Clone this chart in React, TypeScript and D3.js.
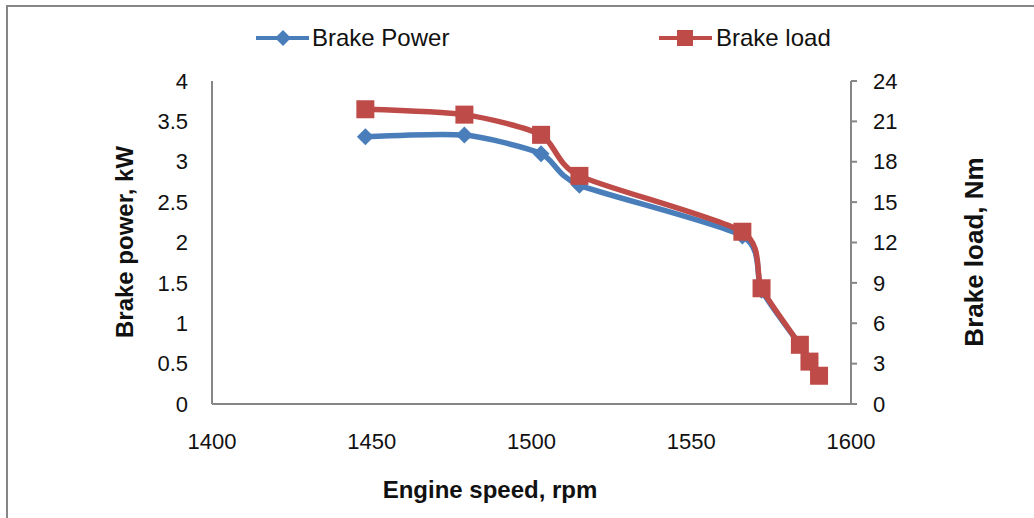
import React, { useRef, useEffect } from "react";
import * as d3 from "d3";

// engine speed (rpm) shared by both series
const speed = [1448, 1479, 1503, 1515, 1566, 1572, 1584, 1587, 1590];
// brake power, kW (left axis)
const brakePower = [3.31, 3.33, 3.1, 2.71, 2.08, 1.41, 0.73, 0.52, 0.35];
// brake load, Nm (right axis)
const brakeLoad = [21.9, 21.5, 20.0, 16.95, 12.8, 8.6, 4.4, 3.15, 2.1];

const xTicks = [1400, 1450, 1500, 1550, 1600];
const leftTicks = [0, 0.5, 1, 1.5, 2, 2.5, 3, 3.5, 4];
const rightTicks = [0, 3, 6, 9, 12, 15, 18, 21, 24];

const BLUE = "#4a7ebb";
const RED = "#be4b48";
const AXIS = "#868686";
const FONT = "'Liberation Sans', Arial, sans-serif";

const App = () => {
  const d3Container = useRef<SVGSVGElement | null>(null);

  useEffect(() => {
    if (!d3Container.current) return;
    const svg = d3.select(d3Container.current);
    svg.selectAll("*").remove();

    const plot = { left: 212, right: 851, top: 81, bottom: 404 };

    const x = d3.scaleLinear().domain([1400, 1600]).range([plot.left, plot.right]);
    const yL = d3.scaleLinear().domain([0, 4]).range([plot.bottom, plot.top]);
    const yR = d3.scaleLinear().domain([0, 24]).range([plot.bottom, plot.top]);

    // outer frame (top + left only visible)
    svg.append("line").attr("x1", 6).attr("x2", 1034).attr("y1", 6).attr("y2", 6)
      .attr("stroke", AXIS).attr("stroke-width", 2);
    svg.append("line").attr("x1", 7).attr("x2", 7).attr("y1", 6).attr("y2", 518)
      .attr("stroke", AXIS).attr("stroke-width", 2);

    // axes lines
    svg.append("line").attr("x1", plot.left).attr("x2", plot.left)
      .attr("y1", plot.top).attr("y2", plot.bottom).attr("stroke", AXIS).attr("stroke-width", 2);
    svg.append("line").attr("x1", plot.left).attr("x2", plot.right)
      .attr("y1", plot.bottom).attr("y2", plot.bottom).attr("stroke", AXIS).attr("stroke-width", 2);
    svg.append("line").attr("x1", plot.right).attr("x2", plot.right)
      .attr("y1", plot.top).attr("y2", plot.bottom).attr("stroke", AXIS).attr("stroke-width", 2);

    // right axis ticks
    svg.append("g").selectAll("line").data(rightTicks).enter().append("line")
      .attr("x1", plot.right).attr("x2", plot.right + 6)
      .attr("y1", (d) => yR(d)).attr("y2", (d) => yR(d))
      .attr("stroke", AXIS).attr("stroke-width", 2);

    const label = (g: any) =>
      g.attr("font-family", FONT).attr("font-size", 22).attr("fill", "#111");

    // left tick labels
    svg.append("g").selectAll("text").data(leftTicks).enter().append("text")
      .call(label)
      .attr("x", 188).attr("y", (d) => yL(d)).attr("dy", "0.35em")
      .attr("text-anchor", "end").text((d) => String(d));

    // right tick labels
    svg.append("g").selectAll("text").data(rightTicks).enter().append("text")
      .call(label)
      .attr("x", 873).attr("y", (d) => yR(d)).attr("dy", "0.35em")
      .attr("text-anchor", "start").text((d) => String(d));

    // x tick labels
    svg.append("g").selectAll("text").data(xTicks).enter().append("text")
      .call(label)
      .attr("x", (d) => x(d)).attr("y", 441).attr("dy", "0.35em")
      .attr("text-anchor", "middle").text((d) => String(d));

    // axis titles
    const title = (g: any) =>
      g.attr("font-family", FONT).attr("font-weight", "bold").attr("fill", "#111");
    svg.append("text").call(title).attr("font-size", 24)
      .attr("x", 490).attr("y", 490).attr("dy", "0.35em").attr("text-anchor", "middle")
      .text("Engine speed, rpm");
    svg.append("text").call(title).attr("font-size", 24)
      .attr("transform", "translate(125,242) rotate(-90)")
      .attr("dy", "0.35em").attr("text-anchor", "middle")
      .text("Brake power, kW");
    svg.append("text").call(title).attr("font-size", 26)
      .attr("transform", "translate(974,252) rotate(-90)")
      .attr("dy", "0.35em").attr("text-anchor", "middle")
      .text("Brake load, Nm");

    // Excel-like smoothing
    const curve = d3.curveCardinal.tension(0.3);
    const diamond = (cx: number, cy: number, r: number) =>
      `M${cx},${cy - r}L${cx + r},${cy}L${cx},${cy + r}L${cx - r},${cy}Z`;

    // brake power series
    const powerLine = d3.line<number>()
      .x((_, i) => x(speed[i]))
      .y((d) => yL(d))
      .curve(curve);
    svg.append("path").datum(brakePower).attr("d", powerLine)
      .attr("fill", "none").attr("stroke", BLUE).attr("stroke-width", 5.5)
      .attr("stroke-linejoin", "round");
    svg.append("g").selectAll("path").data(brakePower).enter().append("path")
      .attr("d", (d, i) => diamond(x(speed[i]), yL(d), 8.5))
      .attr("fill", BLUE);

    // brake load series
    const loadLine = d3.line<number>()
      .x((_, i) => x(speed[i]))
      .y((d) => yR(d))
      .curve(curve);
    svg.append("path").datum(brakeLoad).attr("d", loadLine)
      .attr("fill", "none").attr("stroke", RED).attr("stroke-width", 5.5)
      .attr("stroke-linejoin", "round");
    svg.append("g").selectAll("rect").data(brakeLoad).enter().append("rect")
      .attr("x", (d, i) => x(speed[i]) - 9).attr("y", (d) => yR(d) - 9)
      .attr("width", 18).attr("height", 18)
      .attr("fill", RED);

    // legend
    const legY = 38;
    svg.append("line").attr("x1", 256).attr("x2", 309).attr("y1", legY).attr("y2", legY)
      .attr("stroke", BLUE).attr("stroke-width", 4);
    svg.append("path").attr("d", diamond(283, legY, 8)).attr("fill", BLUE);
    svg.append("text").call(label).attr("font-size", 24)
      .attr("x", 312).attr("y", legY).attr("dy", "0.35em").text("Brake Power");

    svg.append("line").attr("x1", 659).attr("x2", 712).attr("y1", legY).attr("y2", legY)
      .attr("stroke", RED).attr("stroke-width", 4);
    svg.append("rect").attr("x", 677).attr("y", legY - 8).attr("width", 16).attr("height", 16)
      .attr("fill", RED);
    svg.append("text").call(label).attr("font-size", 24)
      .attr("x", 716).attr("y", legY).attr("dy", "0.35em").text("Brake load");
  }, []);

  return (
    <svg
      ref={d3Container}
      width={1034}
      height={518}
      style={{ position: "absolute", left: 0, top: 0, background: "#fff" }}
    />
  );
};

export default App;
